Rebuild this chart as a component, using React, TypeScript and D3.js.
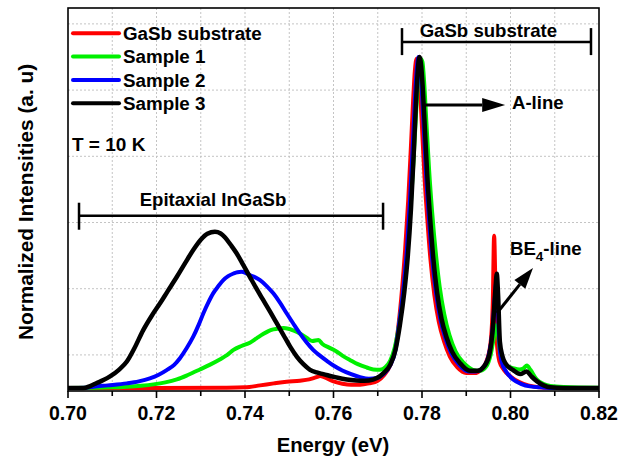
import React from "react";
import * as d3 from "d3";

const W = 618;
const H = 465;

const xTickValues = [0.7, 0.72, 0.74, 0.76, 0.78, 0.8, 0.82];
const xMinorValues = [0.71, 0.73, 0.75, 0.77, 0.79, 0.81];
const yGridValues = [0.1, 0.3, 0.5, 0.7, 0.9, 1.1];

const seriesNames = ["GaSb substrate", "Sample 1", "Sample 2", "Sample 3"];
const seriesColors = ["#ff0000", "#00f000", "#0000ff", "#000000"];

const gasbSubstrate: [number, number][] = [
  [0.7, 0.0], [0.72, 0.0], [0.735, 0.001], [0.74, 0.002], [0.7434, 0.008], [0.7465, 0.014],
  [0.7494, 0.019], [0.7524, 0.022], [0.7545, 0.026], [0.756, 0.032], [0.757, 0.036], [0.758, 0.032],
  [0.76, 0.02], [0.762, 0.013], [0.764, 0.01], [0.766, 0.01], [0.768, 0.014], [0.77, 0.022],
  [0.7715, 0.04], [0.7728, 0.068], [0.7738, 0.11], [0.7746, 0.18], [0.7755, 0.3], [0.7762, 0.42],
  [0.7769, 0.57], [0.7775, 0.73], [0.778, 0.87], [0.7784, 0.96], [0.7788, 0.995], [0.7792, 0.97],
  [0.7796, 0.89], [0.7801, 0.76], [0.7806, 0.63], [0.7812, 0.51], [0.7819, 0.39], [0.7828, 0.28],
  [0.7838, 0.2], [0.785, 0.14], [0.7863, 0.095], [0.788, 0.062], [0.79, 0.045], [0.7918, 0.045],
  [0.7935, 0.058], [0.7948, 0.09], [0.7956, 0.15], [0.796, 0.26], [0.7963, 0.46], [0.7966, 0.3],
  [0.7969, 0.14], [0.7975, 0.08], [0.7985, 0.055], [0.8, 0.035], [0.802, 0.018], [0.804, 0.008],
  [0.806, 0.003], [0.809, 0.0], [0.82, 0.0],
];

const sample1: [number, number][] = [
  [0.7, 0.0], [0.71, 0.002], [0.7133, 0.004], [0.7165, 0.007], [0.7193, 0.011], [0.722, 0.017],
  [0.7246, 0.026], [0.7272, 0.04], [0.7298, 0.056], [0.732, 0.07], [0.7344, 0.087], [0.736, 0.1],
  [0.7374, 0.115], [0.7392, 0.127], [0.7411, 0.137], [0.7426, 0.15], [0.7441, 0.163], [0.7453, 0.172],
  [0.7464, 0.177], [0.7476, 0.18], [0.7487, 0.181], [0.7498, 0.179], [0.7509, 0.174], [0.7524, 0.165],
  [0.7539, 0.152], [0.7552, 0.142], [0.7566, 0.145], [0.7575, 0.133], [0.759, 0.122], [0.7605, 0.112],
  [0.762, 0.098], [0.7637, 0.085], [0.7655, 0.072], [0.7675, 0.062], [0.769, 0.056], [0.7705, 0.055],
  [0.7718, 0.064], [0.7728, 0.082], [0.7738, 0.12], [0.7748, 0.19], [0.7757, 0.28], [0.7766, 0.4],
  [0.7774, 0.54], [0.7781, 0.69], [0.7787, 0.84], [0.7792, 0.94], [0.7797, 0.995], [0.7801, 0.985],
  [0.7805, 0.92], [0.781, 0.8], [0.7816, 0.66], [0.7823, 0.53], [0.7831, 0.41], [0.784, 0.305],
  [0.785, 0.225], [0.7862, 0.16], [0.7876, 0.11], [0.7895, 0.075], [0.7915, 0.055], [0.7931, 0.052],
  [0.7945, 0.065], [0.7955, 0.1], [0.7962, 0.15], [0.7967, 0.19], [0.7971, 0.17], [0.7976, 0.11],
  [0.7985, 0.075], [0.7995, 0.065], [0.8006, 0.06], [0.802, 0.056], [0.803, 0.06], [0.8037, 0.068],
  [0.8045, 0.055], [0.8059, 0.026], [0.8075, 0.012], [0.809, 0.006], [0.812, 0.003], [0.82, 0.001],
];

const sample2: [number, number][] = [
  [0.7, 0.0], [0.704, 0.001], [0.7057, 0.004], [0.709, 0.008], [0.7133, 0.014], [0.716, 0.02],
  [0.7185, 0.029], [0.7205, 0.04], [0.7223, 0.054], [0.724, 0.07], [0.7253, 0.09], [0.7268, 0.12],
  [0.7283, 0.155], [0.7295, 0.19], [0.7306, 0.226], [0.7317, 0.258], [0.7328, 0.286], [0.734, 0.308],
  [0.7351, 0.326], [0.7362, 0.338], [0.7374, 0.346], [0.7383, 0.35], [0.7392, 0.351], [0.7401, 0.348],
  [0.7411, 0.341], [0.7422, 0.335], [0.7434, 0.326], [0.7449, 0.308], [0.7464, 0.286], [0.7479, 0.258],
  [0.7494, 0.226], [0.7509, 0.195], [0.7524, 0.165], [0.7539, 0.138], [0.7554, 0.115], [0.757, 0.097],
  [0.7585, 0.082], [0.76, 0.068], [0.762, 0.053], [0.764, 0.042], [0.766, 0.033], [0.768, 0.028],
  [0.7698, 0.03], [0.7713, 0.042], [0.7728, 0.068], [0.774, 0.115], [0.7748, 0.19], [0.7758, 0.3],
  [0.7766, 0.42], [0.7773, 0.57], [0.7779, 0.73], [0.7784, 0.87], [0.7788, 0.96], [0.7792, 1.0],
  [0.7796, 0.97], [0.78, 0.89], [0.7805, 0.76], [0.781, 0.63], [0.7816, 0.51], [0.7823, 0.39],
  [0.7832, 0.285], [0.7842, 0.205], [0.7853, 0.15], [0.7866, 0.105], [0.7884, 0.07], [0.7905, 0.05],
  [0.7922, 0.05], [0.7938, 0.062], [0.795, 0.095], [0.7959, 0.17], [0.7965, 0.28], [0.7968, 0.32],
  [0.7971, 0.26], [0.7975, 0.13], [0.798, 0.08], [0.799, 0.05], [0.8006, 0.026], [0.8025, 0.012],
  [0.8044, 0.005], [0.807, 0.002], [0.81, 0.0], [0.82, 0.0],
];

const sample3: [number, number][] = [
  [0.7, 0.0], [0.7035, 0.0], [0.705, 0.006], [0.7065, 0.015], [0.708, 0.024], [0.7095, 0.035],
  [0.7115, 0.055], [0.7133, 0.08], [0.715, 0.12], [0.717, 0.175], [0.719, 0.22], [0.7208, 0.256],
  [0.7225, 0.292], [0.7246, 0.336], [0.7265, 0.378], [0.7283, 0.417], [0.73, 0.448], [0.7315, 0.466],
  [0.7332, 0.472], [0.7345, 0.467], [0.7355, 0.455], [0.7368, 0.432], [0.7381, 0.407], [0.7396, 0.372],
  [0.7411, 0.336], [0.7426, 0.3], [0.7441, 0.266], [0.7457, 0.23], [0.7472, 0.195], [0.7487, 0.16],
  [0.7502, 0.125], [0.7517, 0.095], [0.7532, 0.072], [0.7547, 0.055], [0.7562, 0.047], [0.7577, 0.042],
  [0.76, 0.034], [0.762, 0.028], [0.764, 0.024], [0.766, 0.022], [0.768, 0.023], [0.7698, 0.03],
  [0.7713, 0.045], [0.7728, 0.07], [0.774, 0.115], [0.775, 0.19], [0.776, 0.29], [0.7768, 0.4],
  [0.7775, 0.54], [0.7781, 0.7], [0.7786, 0.85], [0.779, 0.95], [0.7794, 1.0], [0.7798, 0.975],
  [0.7802, 0.9], [0.7807, 0.77], [0.7812, 0.64], [0.7818, 0.52], [0.7825, 0.4], [0.7834, 0.29],
  [0.7844, 0.21], [0.7855, 0.155], [0.7868, 0.11], [0.7886, 0.075], [0.7908, 0.052], [0.7925, 0.052],
  [0.794, 0.065], [0.7952, 0.1], [0.796, 0.18], [0.7966, 0.3], [0.7969, 0.345], [0.7972, 0.28],
  [0.7976, 0.14], [0.7982, 0.095], [0.799, 0.072], [0.8006, 0.054], [0.8022, 0.042], [0.8036, 0.05],
  [0.8048, 0.034], [0.806, 0.02], [0.8075, 0.008], [0.809, 0.002], [0.812, 0.0], [0.82, 0.0],
];

const allSeries = [gasbSubstrate, sample1, sample2, sample3];

const FONT = "Arial, 'Liberation Sans', Helvetica, sans-serif";

function arrow(x1: number, y1: number, x2: number, y2: number, len: number, half: number) {
  const a = Math.atan2(y2 - y1, x2 - x1);
  const bx = x2 - len * Math.cos(a);
  const by = y2 - len * Math.sin(a);
  const px = -Math.sin(a) * half;
  const py = Math.cos(a) * half;
  return {
    line: [x1, y1, bx, by],
    head: `${x2},${y2} ${bx + px},${by + py} ${bx - px},${by - py}`,
  };
}

export default function App() {
  const left = 68, right = 599, top = 8, bottom = 391;
  const x = d3.scaleLinear().domain([0.7, 0.82]).range([left, right]);
  const y = d3.scaleLinear().domain([-0.009, 1.148]).range([bottom, top]);
  const line = d3
    .line<[number, number]>()
    .x((d) => x(d[0]))
    .y((d) => y(d[1]))
    .curve(d3.curveMonotoneX);

  const aArrow = arrow(x(0.7807), y(0.855), x(0.7988), y(0.855), 23, 7);
  const beArrow = arrow(x(0.79695), y(0.2266), x(0.80508), y(0.3625), 21, 7);

  const epiY = y(0.5205);
  const gasbY = y(1.045);

  return (
    <svg
      width={W}
      height={H}
      style={{ position: "absolute", left: 0, top: 0, background: "#fff" }}
      fontFamily={FONT}
      fontWeight="bold"
    >
      <defs>
        <clipPath id="plotClip">
          <rect x={left} y={top} width={right - left} height={bottom - top} />
        </clipPath>
      </defs>
      <rect x={0} y={0} width={W} height={H} fill="#fff" />
      {/* grid */}
      {xMinorValues.concat(xTickValues.slice(1, -1)).map((v) => (
        <line key={"gx" + v} x1={x(v)} x2={x(v)} y1={top} y2={bottom} stroke="#c4c4c4" strokeWidth={1} strokeDasharray="2,2" />
      ))}
      {yGridValues.map((v) => (
        <line key={"gy" + v} x1={left} x2={right} y1={y(v)} y2={y(v)} stroke="#c4c4c4" strokeWidth={1} strokeDasharray="2,2" />
      ))}
      {/* series */}
      <g clipPath="url(#plotClip)">
        {allSeries.map((s, i) => (
          <path
            key={seriesNames[i]}
            d={line(s) || ""}
            fill="none"
            stroke={seriesColors[i]}
            strokeWidth={i === 3 ? 4.5 : 4}
            strokeLinejoin="round"
            strokeLinecap="round"
          />
        ))}
      </g>
      {/* frame */}
      <rect x={left} y={top} width={right - left} height={bottom - top} fill="none" stroke="#000" strokeWidth={1.6} />
      {/* x ticks */}
      {xTickValues.map((v) => (
        <g key={"t" + v}>
          <line x1={x(v)} x2={x(v)} y1={bottom} y2={bottom + 7} stroke="#000" strokeWidth={1.6} />
          <text x={x(v)} y={420} textAnchor="middle" fontSize={19.5}>
            {v.toFixed(2)}
          </text>
        </g>
      ))}
      {xMinorValues.map((v) => (
        <line key={"m" + v} x1={x(v)} x2={x(v)} y1={bottom} y2={bottom + 5} stroke="#000" strokeWidth={1.6} />
      ))}
      {/* axis titles */}
      <text x={333} y={452} textAnchor="middle" fontSize={20.3}>
        Energy (eV)
      </text>
      <text transform="translate(33,202) rotate(-90)" textAnchor="middle" fontSize={20.8}>
        Normalized Intensities (a. u)
      </text>
      {/* legend */}
      {seriesNames.map((n, i) => {
        const cy = 33.3 + i * 23.3;
        return (
          <g key={"lg" + n}>
            <line x1={73} x2={119} y1={cy} y2={cy} stroke={seriesColors[i]} strokeWidth={4} strokeLinecap="round" />
            <text x={123} y={cy + 6.8} fontSize={18.8}>
              {n}
            </text>
          </g>
        );
      })}
      {/* T = 10 K */}
      <text x={x(0.7009)} y={151} fontSize={19}>
        T = 10 K
      </text>
      {/* Epitaxial bracket */}
      <line x1={x(0.70249)} x2={x(0.7712)} y1={epiY} y2={epiY} stroke="#000" strokeWidth={2.5} />
      <line x1={x(0.70249)} x2={x(0.70249)} y1={epiY - 13} y2={epiY + 14} stroke="#000" strokeWidth={2.5} />
      <line x1={x(0.7712)} x2={x(0.7712)} y1={epiY - 13} y2={epiY + 14} stroke="#000" strokeWidth={2.5} />
      <text x={x(0.73277)} y={206} textAnchor="middle" fontSize={18.6}>
        Epitaxial InGaSb
      </text>
      {/* GaSb bracket */}
      <line x1={x(0.77548)} x2={x(0.81819)} y1={gasbY} y2={gasbY} stroke="#000" strokeWidth={2.5} />
      <line x1={x(0.77548)} x2={x(0.77548)} y1={gasbY - 14} y2={gasbY + 13} stroke="#000" strokeWidth={2.5} />
      <line x1={x(0.81819)} x2={x(0.81819)} y1={gasbY - 14} y2={gasbY + 13} stroke="#000" strokeWidth={2.5} />
      <text x={x(0.795)} y={37} textAnchor="middle" fontSize={18.6}>
        GaSb substrate
      </text>
      {/* A-line arrow */}
      <line x1={aArrow.line[0]} y1={aArrow.line[1]} x2={aArrow.line[2]} y2={aArrow.line[3]} stroke="#000" strokeWidth={3} />
      <polygon points={aArrow.head} fill="#000" />
      <text x={512} y={109} fontSize={18.6}>
        A-line
      </text>
      {/* BE4 arrow */}
      <line x1={beArrow.line[0]} y1={beArrow.line[1]} x2={beArrow.line[2]} y2={beArrow.line[3]} stroke="#000" strokeWidth={3} />
      <polygon points={beArrow.head} fill="#000" />
      <text x={510} y={255} fontSize={18.6}>
        BE
        <tspan dy={6} fontSize={13.5}>4</tspan>
        <tspan dy={-6} fontSize={18.6}>-line</tspan>
      </text>
    </svg>
  );
}
